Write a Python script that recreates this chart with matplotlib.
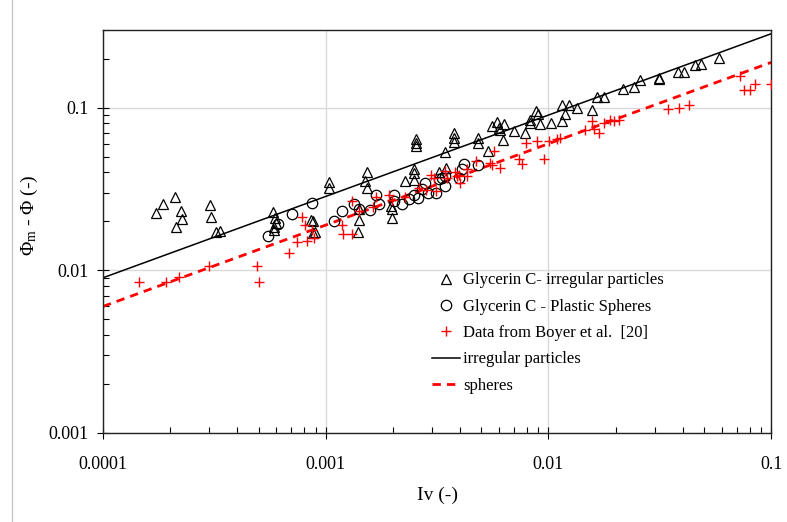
import numpy as np
import matplotlib
matplotlib.use("Agg")
import matplotlib.pyplot as plt
from matplotlib.lines import Line2D
from matplotlib.ticker import LogLocator, FixedLocator, NullFormatter

plt.rcParams['font.family'] = ['Liberation Serif', 'DejaVu Serif']
plt.rcParams['mathtext.fontset'] = 'custom'
plt.rcParams['mathtext.rm'] = 'Liberation Serif'
plt.rcParams['mathtext.it'] = 'Liberation Serif'

# Glycerin C - irregular particles (triangles)
irr_iv = [1.73e-4, 1.85e-4, 2.11e-4, 2.24e-4, 2.26e-4, 2.13e-4, 3.03e-4, 3.04e-4,
          3.21e-4, 3.34e-4, 5.82e-4, 5.93e-4, 5.97e-4, 5.88e-4, 5.84e-4,
          1.036e-3, 1.036e-3, 1.53e-3, 1.508e-3, 1.53e-3, 1.417e-3, 1.417e-3,
          1.394e-3, 1.961e-3, 1.978e-3, 1.978e-3, 2.273e-3, 2.483e-3, 2.483e-3,
          2.496e-3, 2.535e-3, 2.535e-3, 2.535e-3, 3.446e-3, 3.475e-3, 3.238e-3,
          3.755e-3, 3.755e-3, 3.755e-3, 8.63e-4, 8.80e-4, 8.80e-4, 8.96e-4,
          4.828e-3, 4.828e-3, 5.38e-3, 5.574e-3, 5.869e-3, 5.968e-3, 6.03e-3,
          6.285e-3, 6.22e-3, 7.02e-3, 7.87e-3, 8.26e-3, 8.26e-3, 8.81e-3,
          8.93e-3, 9.12e-3, 1.026e-2, 1.15e-2, 1.19e-2, 1.15e-2, 1.24e-2,
          1.343e-2, 1.569e-2, 1.651e-2, 1.768e-2, 2.161e-2, 2.412e-2, 2.585e-2,
          3.146e-2, 3.146e-2, 3.817e-2, 4.046e-2, 4.533e-2, 4.842e-2, 5.834e-2]
irr_phi = [0.0226, 0.0255, 0.0283, 0.0231, 0.0208, 0.0185, 0.0251, 0.0213,
           0.0171, 0.0174, 0.0228, 0.0210, 0.0196, 0.0185, 0.0176,
           0.0350, 0.0322, 0.0404, 0.0353, 0.0319, 0.0237, 0.0205,
           0.0171, 0.0250, 0.0237, 0.0210, 0.0353, 0.0421, 0.0398,
           0.0358, 0.0638, 0.0609, 0.0580, 0.0536, 0.0423, 0.0404,
           0.0702, 0.0654, 0.0614, 0.0203, 0.0202, 0.0170, 0.0172,
           0.0654, 0.0609, 0.0540, 0.0770, 0.0815, 0.0753, 0.0728,
           0.0789, 0.0632, 0.0718, 0.0695, 0.0836, 0.0808, 0.0953,
           0.0909, 0.0789, 0.0800, 0.1038, 0.0909, 0.0827, 0.1038,
           0.1000, 0.0966, 0.1162, 0.1162, 0.1296, 0.1339, 0.1479,
           0.1494, 0.1520, 0.1666, 0.1666, 0.1829, 0.1856, 0.2010]

# Glycerin C - plastic spheres (circles)
sph_iv = [5.53e-4, 6.09e-4, 7.03e-4, 8.66e-4, 1.189e-3, 1.088e-3, 1.342e-3,
          1.413e-3, 1.583e-3, 1.676e-3, 1.743e-3, 2.015e-3, 2.015e-3, 2.203e-3,
          2.37e-3, 2.496e-3, 2.593e-3, 2.796e-3, 2.702e-3, 2.864e-3, 3.123e-3,
          3.238e-3, 3.414e-3, 3.31e-3, 3.446e-3, 4.155e-3, 4.828e-3, 4.087e-3,
          3.946e-3]
sph_phi = [0.0163, 0.0192, 0.0222, 0.0258, 0.0231, 0.0200, 0.0256,
           0.0239, 0.0234, 0.0292, 0.0256, 0.0289, 0.0266, 0.0256,
           0.0276, 0.0290, 0.0278, 0.0345, 0.0316, 0.0300, 0.0300,
           0.0362, 0.0329, 0.0371, 0.0379, 0.0448, 0.0441, 0.0417,
           0.0371]

# Data from Boyer et al. [20] (red crosses)
boy_iv = [1.45e-4, 1.92e-4, 2.20e-4, 2.99e-4, 4.90e-4, 5.01e-4, 6.83e-4, 7.46e-4,
          7.86e-4, 8.08e-4, 8.72e-4, 8.28e-4, 8.87e-4, 1.31e-3, 1.177e-3, 1.201e-3,
          1.315e-3, 1.413e-3, 1.628e-3, 1.676e-3, 1.921e-3, 1.978e-3, 2.28e-3,
          2.636e-3, 2.834e-3, 2.975e-3, 3.059e-3, 3.14e-3, 3.414e-3, 3.511e-3,
          3.813e-3, 3.881e-3, 3.946e-3, 4.317e-3, 4.317e-3, 4.016e-3, 4.724e-3,
          5.476e-3, 5.667e-3, 5.574e-3, 6.074e-3, 7.34e-3, 7.60e-3, 7.95e-3,
          8.85e-3, 9.51e-3, 1.005e-2, 1.092e-2, 1.13e-2, 1.464e-2, 1.569e-2,
          1.606e-2, 1.679e-2, 1.781e-2, 1.895e-2, 1.961e-2, 2.065e-2, 3.428e-2,
          3.87e-2, 4.259e-2, 7.27e-2, 7.52e-2, 8.07e-2, 8.43e-2, 0.1]
boy_phi = [0.0085, 0.0085, 0.0091, 0.0107, 0.0107, 0.00852, 0.0127, 0.0149,
           0.0213, 0.0190, 0.0178, 0.0152, 0.0158, 0.0268, 0.0190, 0.0168,
           0.0168, 0.0232, 0.0244, 0.0282, 0.0290, 0.0272, 0.0282,
           0.0319, 0.0310, 0.0388, 0.0371, 0.0309, 0.0407, 0.0371,
           0.0401, 0.0379, 0.0388, 0.0421, 0.0379, 0.0345, 0.0469,
           0.0458, 0.0540, 0.0441, 0.0427, 0.0480, 0.0448, 0.0609,
           0.0623, 0.0485, 0.0623, 0.0644, 0.0651, 0.0728, 0.0827,
           0.0743, 0.0695, 0.0808, 0.0839, 0.0827, 0.0839, 0.0986,
           0.1000, 0.1043, 0.1565, 0.1278, 0.1278, 0.1405, 0.1405]

# power-law fits: phi_m - phi = k * Iv^0.5
fit_exp = 0.5
k_irregular = 0.9
k_spheres = 0.6

fig = plt.figure(figsize=(7.87, 5.22), dpi=100)
ax = fig.add_axes([0.1309, 0.1705, 0.849, 0.772])

iv_line = np.logspace(-4, -1, 200)
ax.plot(irr_iv, irr_phi, linestyle='none', marker='^', markersize=7,
        markerfacecolor='none', markeredgecolor='black', markeredgewidth=0.9,
        label='Glycerin C- irregular particles', zorder=3)
ax.plot(sph_iv, sph_phi, linestyle='none', marker='o', markersize=7.5,
        markerfacecolor='none', markeredgecolor='black', markeredgewidth=0.9,
        label='Glycerin C - Plastic Spheres', zorder=3)
ax.plot(boy_iv, boy_phi, linestyle='none', marker='+', markersize=7,
        markeredgecolor='red', markeredgewidth=1.0,
        label='Data from Boyer et al.  [20]', zorder=3)
ax.plot(iv_line, k_irregular * iv_line ** fit_exp, color='black', lw=1.1,
        label='irregular particles', zorder=2)
ax.plot(iv_line, k_spheres * iv_line ** fit_exp, color='red', lw=2.0,
        dashes=(3.0, 2.2), label='spheres', zorder=2)

ax.set_xscale('log')
ax.set_yscale('log')
ax.set_xlim(1e-4, 0.1)
ax.set_ylim(1e-3, 0.3)

ax.xaxis.set_major_locator(FixedLocator([1e-4, 1e-3, 1e-2, 1e-1]))
ax.yaxis.set_major_locator(FixedLocator([1e-3, 1e-2, 1e-1]))
ax.xaxis.set_minor_locator(LogLocator(base=10, subs=np.arange(2, 10)))
ax.yaxis.set_minor_locator(LogLocator(base=10, subs=np.arange(2, 10)))
ax.xaxis.set_minor_formatter(NullFormatter())
ax.yaxis.set_minor_formatter(NullFormatter())
ax.set_xticklabels(['0.0001', '0.001', '0.01', '0.1'])
ax.set_yticklabels(['0.001', '0.01', '0.1'])

ax.tick_params(which='major', direction='inout', length=9, width=0.8,
               labelsize=13, pad=6)
ax.tick_params(which='minor', direction='in', length=4, width=0.8)
ax.tick_params(axis='x', which='major', pad=12)

ax.grid(True, which='major', color='#d9d9d9', lw=1.0, zorder=0)
ax.set_axisbelow(True)
for sp in ax.spines.values():
    sp.set_linewidth(1.0)
    sp.set_color('#222222')

ax.set_xlabel('Iv (-)', fontsize=14, labelpad=10)
ax.set_ylabel(r'$\Phi_\mathrm{m}$ - $\Phi$ (-)', fontsize=14)
ax.yaxis.set_label_coords(-0.095, 0.54)

ax.legend(loc='upper left', bbox_to_anchor=(0.4826, 0.415), frameon=False,
          fontsize=12, handlelength=1.7, handletextpad=0.15,
          labelspacing=0.62, borderaxespad=0)

# thin gray frame line at the left edge of the picture
fig.add_artist(Line2D([12 / 787, 12 / 787], [0, 1], color='#c8c8c8', lw=1.0))

fig.savefig('out.png', dpi=100)
